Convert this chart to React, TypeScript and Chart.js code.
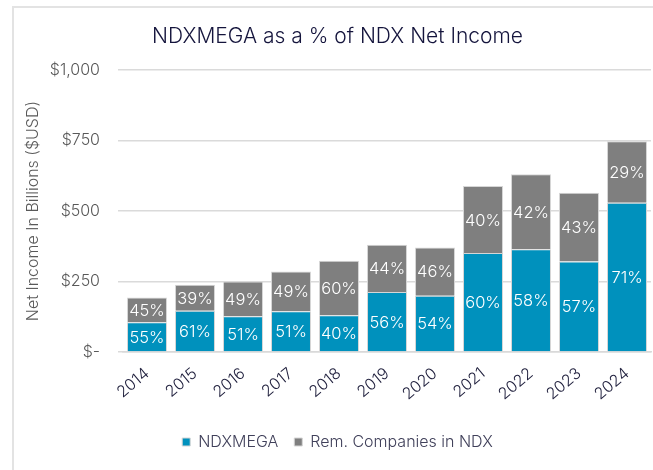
import React, { useEffect, useRef } from "react";
import { Chart, registerables } from "chart.js";

Chart.register(...registerables);

const years = ["2014", "2015", "2016", "2017", "2018", "2019", "2020", "2021", "2022", "2023", "2024"];
const ndxMega = [106, 146, 127, 145, 130, 213, 200, 351, 365, 321, 530];
const remCompanies = [87, 93, 123, 141, 194, 168, 171, 238, 266, 244, 218];
const megaPctLabels = ["55%", "61%", "51%", "51%", "40%", "56%", "54%", "60%", "58%", "57%", "71%"];
const remPctLabels = ["45%", "39%", "49%", "49%", "60%", "44%", "46%", "40%", "42%", "43%", "29%"];
const yTickValues = [0, 250, 500, 750, 1000];

const FONT = "Inter, 'Noto Sans', sans-serif";
const W = 300;

const pctLabelPlugin = {
  id: "pctLabels",
  afterDatasetsDraw(chart: any) {
    const ctx = chart.ctx;
    const labelSets = [megaPctLabels, remPctLabels];
    ctx.save();
    ctx.font = `${W} 16.5px ${FONT}`;
    ctx.fillStyle = "#ffffff";
    ctx.textAlign = "center";
    ctx.textBaseline = "middle";
    chart.data.datasets.forEach((_ds: any, di: number) => {
      const meta = chart.getDatasetMeta(di);
      meta.data.forEach((bar: any, i: number) => {
        const { x, y, base } = bar.getProps(["x", "y", "base"], true);
        ctx.fillText(labelSets[di][i], x, (y + base) / 2 + 1);
      });
    });
    ctx.restore();
  },
};

export default function App() {
  const canvasRef = useRef<HTMLCanvasElement | null>(null);

  useEffect(() => {
    if (!canvasRef.current) return;
    const chart = new Chart(canvasRef.current, {
      type: "bar",
      data: {
        labels: years,
        datasets: [
          {
            label: "NDXMEGA",
            data: ndxMega,
            backgroundColor: "#0091BD",
            borderColor: "#d6d6d6",
            borderWidth: 1,
            barPercentage: 0.833,
            categoryPercentage: 1,
          },
          {
            label: "Rem. Companies in NDX",
            data: remCompanies,
            backgroundColor: "#7F7F7F",
            borderColor: "#d6d6d6",
            borderWidth: 1,
            barPercentage: 0.833,
            categoryPercentage: 1,
          },
        ],
      },
      options: {
        responsive: false,
        animation: false,
        devicePixelRatio: 1,
        layout: { padding: { left: 12, right: 14, top: 0, bottom: 10 } },
        plugins: {
          title: {
            display: true,
            text: "NDXMEGA as a % of NDX Net Income",
            color: "#14143c",
            font: { family: FONT, size: 21, weight: W },
            padding: { top: 24, bottom: 21 },
          },
          legend: {
            display: true,
            position: "bottom",
            labels: {
              color: "#40405a",
              font: { family: FONT, size: 16, weight: W },
              boxWidth: 8,
              boxHeight: 8,
              padding: 16,
            },
          },
          tooltip: { enabled: false },
        },
        scales: {
          x: {
            stacked: true,
            grid: { display: false, drawTicks: false },
            border: { display: true, color: "#d9d9d9", width: 1.5 },
            ticks: {
              color: "#22223f",
              font: { family: FONT, size: 16, weight: W },
              minRotation: 40,
              maxRotation: 40,
              padding: 12,
            },
            afterFit(scale: any) {
              scale.height = 66;
            },
          },
          y: {
            stacked: true,
            min: 0,
            max: 1000,
            afterBuildTicks(scale: any) {
              scale.ticks = yTickValues.map((v) => ({ value: v }));
            },
            grid: { color: "#dadada", lineWidth: 1.5, drawTicks: true, tickLength: 5 },
            border: { display: false },
            ticks: {
              color: "#595959",
              font: { family: FONT, size: 16, weight: W },
              padding: 18,
              callback: (v: any) => (Number(v) === 0 ? "$-" : "$" + Number(v).toLocaleString("en-US")),
            },
            title: {
              display: true,
              text: "Net Income In Billions ($USD)",
              color: "#595959",
              font: { family: FONT, size: 16, weight: W },
              padding: { top: 0, bottom: 0 },
            },
            afterFit(scale: any) {
              scale.width = 99;
            },
          },
        },
      },
      plugins: [pctLabelPlugin],
    } as any);
    return () => chart.destroy();
  }, []);

  return (
    <div style={{ position: "fixed", left: 0, top: 0, width: 653, height: 470, overflow: "hidden", background: "#ffffff" }}>
      <div
        style={{
          position: "absolute",
          left: 12,
          top: 6,
          width: 700,
          height: 500,
          borderLeft: "2px solid #e3e3e3",
          borderTop: "2px solid #e3e3e3",
        }}
      />
      <div style={{ position: "absolute", left: 12, top: 0, width: 653, height: 470 }}>
        <canvas ref={canvasRef} width={653} height={470} style={{ width: 653, height: 470, display: "block" }} />
      </div>
    </div>
  );
}
